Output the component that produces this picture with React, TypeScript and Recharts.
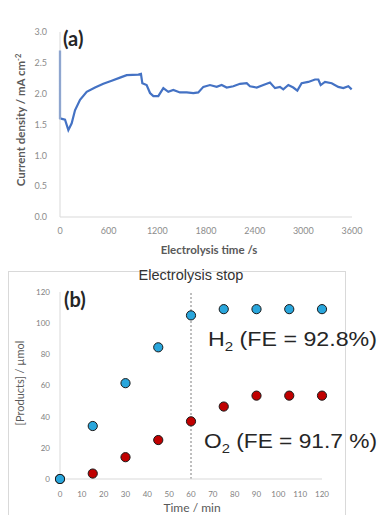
import { Line, LineChart, ReferenceLine, Scatter, ScatterChart, XAxis, YAxis } from "recharts";

// (a) chronoamperometry
const timeSec = [
  0, 0, 62, 103, 144, 185, 247, 329, 432, 534, 637, 740, 822, 966, 998, 1015, 1068, 1110, 1151, 1212,
  1274, 1335, 1397, 1479, 1562, 1644, 1705, 1767, 1849, 1932, 1993, 2055, 2137, 2219, 2302, 2342, 2425,
  2507, 2589, 2651, 2712, 2753, 2815, 2876, 2926, 2979, 3061, 3144, 3185, 3214, 3267, 3350, 3431, 3493,
  3555, 3596,
];
const currentDensity = [
  2.7, 1.6, 1.58, 1.41, 1.52, 1.73, 1.9, 2.03, 2.1, 2.16, 2.21, 2.26, 2.3, 2.31, 2.32, 2.17, 2.14, 2.01,
  1.96, 1.96, 2.09, 2.03, 2.06, 2.02, 2.02, 2.01, 2.02, 2.11, 2.14, 2.11, 2.14, 2.1, 2.12, 2.16, 2.17,
  2.12, 2.1, 2.14, 2.18, 2.09, 2.11, 2.07, 2.14, 2.1, 2.05, 2.17, 2.19, 2.23, 2.23, 2.14, 2.19, 2.17,
  2.11, 2.09, 2.12, 2.07,
];
const timeTicks = [0, 600, 1200, 1800, 2400, 3000, 3600];
const densityTicks = [0, 0.5, 1, 1.5, 2, 2.5, 3];

// (b) products
const sampleMin = [0, 15, 30, 45, 60, 75, 90, 105, 120];
const h2Umol = [0, 34, 61.5, 84.5, 105, 109, 109, 109, 109];
const o2Umol = [0, 3.5, 14, 25, 37, 46.5, 53.5, 53.5, 53.5];
const minTicks = [0, 10, 20, 30, 40, 50, 60, 70, 80, 90, 100, 110, 120];
const umolTicks = [0, 20, 40, 60, 80, 100, 120];

const currentData = timeSec.map((t, i) => ({ t, j: currentDensity[i] }));
const h2Data = sampleMin.map((x, i) => ({ x, y: h2Umol[i] }));
const o2Data = sampleMin.map((x, i) => ({ x, y: o2Umol[i] }));

const axisGrey = "#d9d9d9";
const labelFont = "Lato, 'Open Sans', sans-serif";
const arial = "'Liberation Sans', Arial, sans-serif";

const dot = (fill: string) => (props: any) => (
  <circle cx={props.cx} cy={props.cy} r={4.6} fill={fill} stroke="#1a1a1a" strokeWidth={1} />
);

export default function App() {
  return (
    <div style={{ position: "absolute", left: 0, top: 0, width: 378, height: 515, background: "#fff" }}>
      <div style={{ position: "absolute", left: 0, top: 0 }}>
        <LineChart width={378} height={260} data={currentData} margin={{ top: 32, right: 26, left: 0, bottom: 0 }}>
          <XAxis
            dataKey="t"
            type="number"
            domain={[0, 3600]}
            ticks={timeTicks}
            height={43}
            tickLine={false}
            tickMargin={5}
            stroke={axisGrey}
            tick={{ fill: "#8c8c8c", fontSize: 9, fontFamily: labelFont }}
          />
          <YAxis
            type="number"
            domain={[0, 3]}
            ticks={densityTicks}
            width={60}
            tickLine={false}
            tickMargin={7}
            stroke={axisGrey}
            tickFormatter={(v) => Number(v).toFixed(1)}
            tick={{ fill: "#8c8c8c", fontSize: 9, fontFamily: labelFont }}
          />
          <Line
            type="linear"
            dataKey="j"
            stroke="#4472c4"
            strokeWidth={2.2}
            dot={false}
            isAnimationActive={false}
          />
        </LineChart>
      </div>

      <div style={{ position: "absolute", left: 0, top: 255 }}>
        <ScatterChart width={378} height={260} margin={{ top: 37, right: 56, left: 0, bottom: 0 }}>
          <XAxis
            dataKey="x"
            type="number"
            domain={[0, 120]}
            ticks={minTicks}
            height={36}
            tickLine={false}
            tickMargin={6}
            stroke={axisGrey}
            tick={{ fill: "#7f7f7f", fontSize: 8, fontFamily: labelFont }}
          />
          <YAxis
            dataKey="y"
            type="number"
            domain={[0, 120]}
            ticks={umolTicks}
            width={60}
            tickLine={false}
            tickMargin={4}
            stroke={axisGrey}
            tick={{ fill: "#7f7f7f", fontSize: 8, fontFamily: labelFont }}
          />
          <ReferenceLine x={60} stroke="#7f7f7f" strokeDasharray="2 2" />
          <Scatter data={o2Data} shape={dot("#c00000")} isAnimationActive={false} />
          <Scatter data={h2Data} shape={dot("#29a6dc")} isAnimationActive={false} />
        </ScatterChart>
      </div>

      <svg
        width={378}
        height={515}
        style={{ position: "absolute", left: 0, top: 0, pointerEvents: "none" }}
      >
        <text x={63} y={46} fontFamily={labelFont} fontWeight={700} fontSize={20} fill="#262626">
          (a)
        </text>
        <text
          transform="translate(25,120) rotate(-90)"
          textAnchor="middle"
          fontFamily={labelFont}
          fontWeight={700}
          fontSize={11.5}
          fill="#595959"
        >
          Current density / mA cm
          <tspan dy={-4} fontSize={7.5}>-2</tspan>
        </text>
        <text
          x={209}
          y={254}
          textAnchor="middle"
          fontFamily={labelFont}
          fontWeight={700}
          fontSize={11.5}
          fill="#595959"
        >
          Electrolysis time /s
        </text>

        <rect x={8.5} y={271.5} width={337} height={250} fill="none" stroke={axisGrey} />
        <text x={191} y={280} textAnchor="middle" fontFamily={arial} fontSize={14.5} fill="#333">
          Electrolysis stop
        </text>
        <text x={64} y={307} fontFamily={labelFont} fontWeight={700} fontSize={20} fill="#262626">
          (b)
        </text>
        <text
          transform="translate(24,383) rotate(-90)"
          textAnchor="middle"
          fontFamily={labelFont}
          fontSize={11}
          fill="#595959"
        >
          [Products] / µmol
        </text>
        <text x={192} y={512} textAnchor="middle" fontFamily={labelFont} fontSize={12} fill="#595959">
          Time / min
        </text>
        <text
          x={208}
          y={346}
          fontFamily={arial}
          fontSize={20}
          fill="#262626"
          textLength={169}
          lengthAdjust="spacingAndGlyphs"
        >
          H<tspan dy={5} fontSize={13}>2</tspan>
          <tspan dy={-5}> (FE = 92.8%)</tspan>
        </text>
        <text
          x={204}
          y={448}
          fontFamily={arial}
          fontSize={20}
          fill="#262626"
          textLength={173}
          lengthAdjust="spacingAndGlyphs"
        >
          O<tspan dy={5} fontSize={13}>2</tspan>
          <tspan dy={-5}> (FE = 91.7 %)</tspan>
        </text>
      </svg>
    </div>
  );
}
